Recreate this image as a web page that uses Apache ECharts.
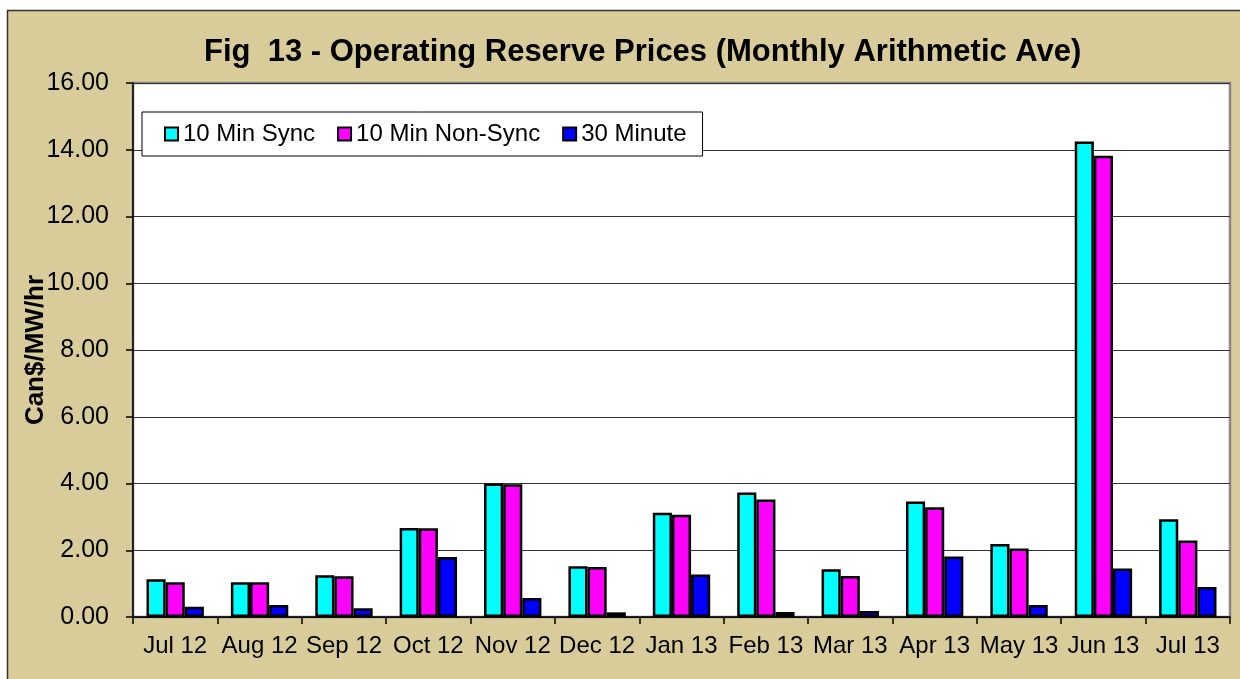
<!DOCTYPE html>
<html><head><meta charset="utf-8">
<script src="https://cdn.jsdelivr.net/npm/echarts@6/dist/echarts.min.js"></script>
<style>html,body{margin:0;padding:0;background:#fff}#c{width:1240px;height:679px}</style>
</head><body><div id="c"></div>
<script>
const categories = ['Jul 12','Aug 12','Sep 12','Oct 12','Nov 12','Dec 12','Jan 13','Feb 13','Mar 13','Apr 13','May 13','Jun 13','Jul 13'];
const sync10 = [1.13,1.04,1.25,2.67,4.00,1.52,3.12,3.73,1.43,3.46,2.19,14.25,2.93];
const nonSync10 = [1.04,1.04,1.22,2.66,3.98,1.50,3.06,3.52,1.23,3.29,2.05,13.82,2.29];
const min30 = [0.31,0.36,0.26,1.80,0.57,0.14,1.27,0.15,0.18,1.81,0.36,1.45,0.90];
const seriesNames = ['10 Min Sync','10 Min Non-Sync','30 Minute'];
const colors = ['#00FFFF','#FF00FF','#0000FF'];
const yTicks = {min:0,max:16,interval:2};

const chart = echarts.init(document.getElementById('c'));
const FONT = 'Liberation Sans, Arial, sans-serif';
const data = [sync10, nonSync10, min30];
chart.setOption({
  animation:false,
  backgroundColor:'#fff',
  textStyle:{fontFamily:FONT},
  graphic:[{type:'rect',z:-10,shape:{x:7.5,y:10.5,width:1240,height:700},style:{fill:'#D8CC9A',stroke:'#333',lineWidth:1.5}}],
  title:{text:'Fig  13 - Operating Reserve Prices (Monthly Arithmetic Ave)',left:199,top:32,
    textStyle:{fontFamily:FONT,fontSize:31,fontWeight:'bold',color:'#000'}},
  legend:{left:142,top:112,orient:'horizontal',icon:'rect',itemWidth:13,itemHeight:13,itemGap:22,
    backgroundColor:'#fff',borderColor:'#000',borderWidth:1,padding:[10,16,10,22],
    textStyle:{fontFamily:FONT,fontSize:24,color:'#000',padding:[0,0,0,0]},
    itemStyle:{borderColor:'#000',borderWidth:2},
    data:seriesNames},
  grid:{left:133,right:10,top:83,bottom:62,show:true,backgroundColor:'#fff',borderColor:'#888',borderWidth:2.5},
  xAxis:{type:'category',data:categories,
    axisLine:{lineStyle:{color:'#000',width:1.5}},
    axisTick:{show:true,length:7,lineStyle:{color:'#000',width:1.5}},
    axisLabel:{fontFamily:FONT,fontSize:24,color:'#000',margin:17,interval:0}},
  yAxis:{type:'value',min:yTicks.min,max:yTicks.max,interval:yTicks.interval,
    name:'Can$/MW/hr',nameLocation:'middle',nameGap:84,nameMoveOverlap:false,
    nameTextStyle:{fontFamily:FONT,fontSize:26,fontWeight:'bold',color:'#000'},
    axisLine:{show:true,lineStyle:{color:'#000',width:1.5}},
    axisTick:{show:true,length:7,lineStyle:{color:'#000',width:1.5}},
    axisLabel:{fontFamily:FONT,fontSize:25,color:'#000',margin:24,formatter:v=>v.toFixed(2)},
    splitLine:{lineStyle:{color:'#333',width:1.2}}},
  series:seriesNames.map((n,i)=>({name:n,type:'bar',data:data[i],barGap:'0%',barCategoryGap:'32%',
    itemStyle:{color:colors[i],borderColor:'#000',borderWidth:2.5}}))
});
</script></body></html>
